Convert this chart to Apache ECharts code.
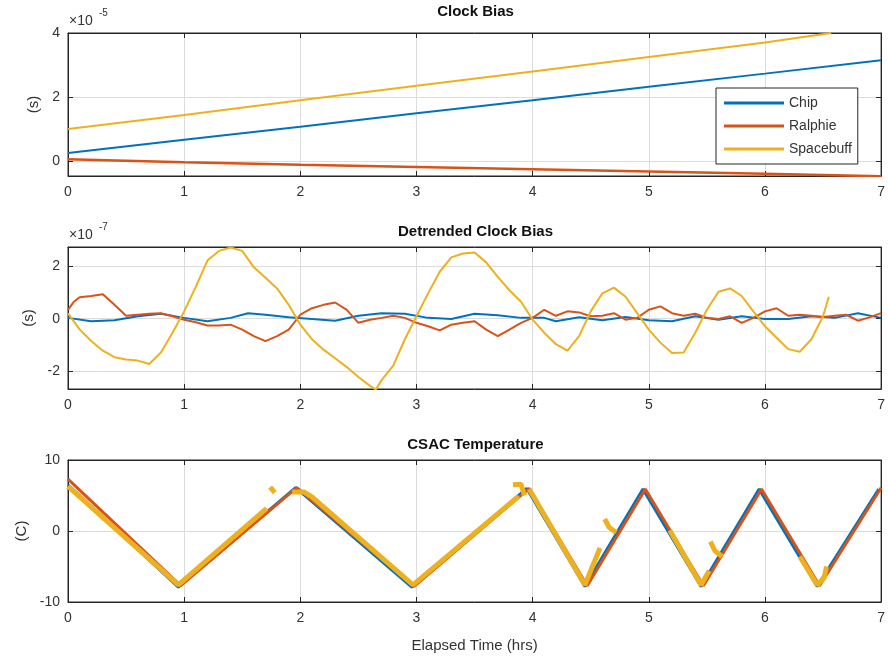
<!DOCTYPE html>
<html>
<head>
<meta charset="utf-8">
<script src="https://cdn.jsdelivr.net/npm/echarts@6/dist/echarts.min.js"></script>
<style>
html,body{margin:0;padding:0;background:#fff;}
#chart{width:888px;height:658px;}
</style>
</head>
<body>
<div id="chart"></div>
<script>
// ---------- DATA ----------
const seriesNames = ['Chip', 'Ralphie', 'Spacebuff'];
const xTicks = [0, 1, 2, 3, 4, 5, 6, 7];

// Panel 1: Clock Bias (units of 1e-5 s)
const biasChipT = [0, 1, 2, 3, 4, 5, 6, 7];
const biasChipV = [0.25, 0.66, 1.07, 1.49, 1.90, 2.32, 2.73, 3.15];
const biasRalphieT = [0, 1, 2, 3, 4, 5, 6, 7];
const biasRalphieV = [0.05, -0.04, -0.12, -0.19, -0.26, -0.33, -0.40, -0.48];
const biasSpacebuffT = [0, 1, 2, 3, 4, 5, 6, 6.57];
const biasSpacebuffV = [1.0, 1.44, 1.90, 2.35, 2.80, 3.25, 3.70, 4.0];

// Panel 2: Detrended Clock Bias (units of 1e-7 s)
const detChipT = [0,0.2,0.4,0.6,0.8,1.0,1.2,1.4,1.55,1.7,1.9,2.1,2.3,2.5,2.7,2.9,3.1,3.3,3.5,3.7,3.9,4.1,4.2,4.4,4.6,4.8,5.0,5.2,5.4,5.6,5.8,6.0,6.2,6.4,6.6,6.8,7.0];
const detChipV = [0.03,-0.10,-0.06,0.09,0.19,0.03,-0.10,0.03,0.21,0.15,0.05,-0.01,-0.08,0.11,0.21,0.19,0.03,-0.01,0.19,0.13,0.03,0.03,-0.10,0.05,-0.06,0.06,-0.06,-0.10,0.09,-0.04,0.09,-0.01,-0.01,0.09,0.03,0.21,0.03];
const detRalphieT = [0,0.05,0.1,0.2,0.3,0.4,0.5,0.6,0.7,0.8,0.9,1.0,1.1,1.2,1.3,1.4,1.5,1.6,1.7,1.8,1.9,2.0,2.1,2.2,2.3,2.4,2.5,2.6,2.7,2.8,2.9,3.0,3.1,3.2,3.3,3.4,3.5,3.6,3.7,3.8,3.9,4.0,4.1,4.2,4.3,4.4,4.5,4.6,4.7,4.8,4.9,5.0,5.1,5.2,5.3,5.4,5.5,5.6,5.7,5.8,5.9,6.0,6.1,6.2,6.3,6.4,6.5,6.6,6.7,6.8,6.9,7.0];
const detRalphieV = [0.34,0.65,0.82,0.87,0.94,0.53,0.11,0.15,0.19,0.21,0.09,-0.04,-0.14,-0.26,-0.26,-0.23,-0.42,-0.67,-0.86,-0.67,-0.42,0.15,0.40,0.53,0.62,0.34,-0.16,-0.04,0.03,0.11,0.03,-0.16,-0.29,-0.45,-0.23,-0.16,-0.10,-0.42,-0.67,-0.42,-0.16,0.03,0.34,0.11,0.28,0.24,0.09,0.11,0.21,-0.04,0.03,0.34,0.47,0.21,0.11,0.19,0.03,-0.01,0.09,-0.16,0.03,0.28,0.40,0.11,0.15,0.11,0.06,0.11,0.15,-0.08,0.05,0.21];
const detSpacebuffT = [0,0.1,0.2,0.3,0.4,0.5,0.6,0.7,0.8,0.9,1.0,1.1,1.2,1.3,1.4,1.5,1.6,1.7,1.8,1.9,2.0,2.1,2.2,2.3,2.4,2.5,2.6,2.65,2.7,2.8,2.9,3.0,3.1,3.2,3.3,3.4,3.5,3.6,3.7,3.8,3.9,4.0,4.1,4.2,4.3,4.4,4.5,4.6,4.7,4.8,4.9,5.0,5.1,5.2,5.3,5.4,5.5,5.6,5.7,5.8,5.9,6.0,6.1,6.2,6.3,6.4,6.5,6.55];
const detSpacebuffV = [0.2,-0.41,-0.86,-1.23,-1.48,-1.57,-1.61,-1.74,-1.30,-0.54,0.28,1.22,2.23,2.60,2.73,2.60,1.97,1.57,1.16,0.53,-0.23,-0.79,-1.19,-1.52,-1.86,-2.24,-2.58,-2.72,-2.36,-1.80,-0.79,0.09,0.97,1.80,2.35,2.50,2.54,2.16,1.60,1.09,0.65,-0.04,-0.54,-0.98,-1.23,-0.67,0.28,0.97,1.19,0.84,0.21,-0.42,-0.92,-1.32,-1.30,-0.54,0.34,1.03,1.16,0.87,0.28,-0.29,-0.73,-1.17,-1.27,-0.79,0.09,0.84];

// Panel 3: CSAC Temperature (C)
const tempChipT = [0, 0.95, 1.96, 2.96, 3.95, 4.45, 4.95, 5.45, 5.95, 6.45, 6.98];
const tempChipV = [6.5, -7.9, 6.1, -7.9, 6.0, -7.8, 5.9, -7.8, 5.9, -7.8, 5.9];
const tempRalphieT = [0, 0.97, 1.97, 2.98, 3.97, 4.47, 4.97, 5.47, 5.97, 6.47, 7.0];
const tempRalphieV = [7.3, -7.7, 6.1, -7.8, 6.0, -7.7, 5.9, -7.7, 5.9, -7.7, 6.1];
const tempSpacebuffT = [0,0.95,1.71,null,1.74,1.78,null,1.93,2.03,2.1,2.97,3.88,null,3.83,3.9,3.93,null,3.97,4.45,4.58,null,4.62,4.66,4.72,null,5.18,5.45,5.52,null,5.53,5.57,5.63,null,6.3,6.45,6.51,6.53];
const tempSpacebuffV = [6.3,-7.6,3.2,null,6.2,5.4,null,5.5,5.5,4.8,-7.6,4.9,null,6.5,6.6,5.0,null,5.9,-7.6,-2.4,null,1.7,0.5,-0.2,null,0.1,-7.6,-5.6,null,-1.5,-2.8,-3.6,null,-3.6,-7.6,-6.6,-5.0];

// ---------- STYLE ----------
const colors = ['#0072BD', '#D95319', '#EDB120'];
const FONT = '"Liberation Sans", Arial, Helvetica, sans-serif';
const TXT = '#333333';
const grids = [
  {left: 68, right: 5, top: 33, height: 143},
  {left: 68, right: 5, top: 247, height: 142},
  {left: 68, right: 5, top: 460, height: 142}
];
const yRanges = [
  {min: -0.47, max: 4, splitNumber: 2, name: '(s)', gap: 27},
  {min: -2.7, max: 2.75, splitNumber: 3, name: '(s)', gap: 27},
  {min: -10, max: 10, interval: 10, name: '(C)', gap: 36}
];

function pairs(t, v) { return t.map((x, i) => (x === null ? [null, null] : [x, v[i]])); }

const xAxes = [], yAxes = [];
grids.forEach((g, i) => {
  xAxes.push({
    type: 'value', gridIndex: i, min: 0, max: 7, interval: 1, position: 'bottom',
    axisLine: {show: true, onZero: false, lineStyle: {color: '#262626', width: 1}},
    axisTick: {show: true, inside: true, length: 5, lineStyle: {color: '#262626'}},
    axisLabel: {color: TXT, fontSize: 14, fontFamily: FONT, margin: 9},
    splitLine: {show: true, lineStyle: {color: '#dcdcdc', width: 1}},
    name: i === 2 ? 'Elapsed Time (hrs)' : '',
    nameLocation: 'middle', nameGap: 36,
    nameTextStyle: {color: TXT, fontSize: 15, fontFamily: FONT}
  });
  xAxes.push({
    type: 'value', gridIndex: i, min: 0, max: 7, interval: 1, position: 'top',
    axisLine: {show: true, onZero: false, lineStyle: {color: '#262626'}},
    axisTick: {show: true, inside: true, length: 5, lineStyle: {color: '#262626'}},
    axisLabel: {show: false}, splitLine: {show: false}
  });
  const r = yRanges[i];
  const yBase = {
    type: 'value', gridIndex: i, min: r.min, max: r.max
  };
  if (r.interval) yBase.interval = r.interval; else yBase.splitNumber = r.splitNumber;
  yAxes.push(Object.assign({}, yBase, {
    position: 'left',
    axisLine: {show: true, onZero: false, lineStyle: {color: '#262626', width: 1}},
    axisTick: {show: true, inside: true, length: 5, lineStyle: {color: '#262626'}},
    axisLabel: {color: TXT, fontSize: 14, fontFamily: FONT, margin: 8,
      showMinLabel: i === 2, showMaxLabel: i !== 1},
    splitLine: {show: true, lineStyle: {color: '#dcdcdc', width: 1}},
    name: r.name, nameLocation: 'middle', nameGap: r.gap, nameRotate: 90,
    nameTextStyle: {color: TXT, fontSize: 15, fontFamily: FONT}
  }));
  yAxes.push(Object.assign({}, yBase, {
    position: 'right',
    axisLine: {show: true, onZero: false, lineStyle: {color: '#262626'}},
    axisTick: {show: true, inside: true, length: 5, lineStyle: {color: '#262626'}},
    axisLabel: {show: false}, splitLine: {show: false}
  }));
});

function line(name, gi, data, width, color) {
  return {
    type: 'line', name: name, xAxisIndex: gi * 2, yAxisIndex: gi * 2,
    data: data, showSymbol: false, symbol: 'none', connectNulls: false,
    lineStyle: {width: width, color: color}, itemStyle: {color: color},
    animation: false, silent: true
  };
}

const series = [
  line('Chip', 0, pairs(biasChipT, biasChipV), 2, colors[0]),
  line('Ralphie', 0, pairs(biasRalphieT, biasRalphieV), 2.5, colors[1]),
  line('Spacebuff', 0, pairs(biasSpacebuffT, biasSpacebuffV), 2, colors[2]),
  line('Chip', 1, pairs(detChipT, detChipV), 2, colors[0]),
  line('Ralphie', 1, pairs(detRalphieT, detRalphieV), 2, colors[1]),
  line('Spacebuff', 1, pairs(detSpacebuffT, detSpacebuffV), 2, colors[2]),
  line('Chip', 2, pairs(tempChipT, tempChipV), 3, colors[0]),
  line('Ralphie', 2, pairs(tempRalphieT, tempRalphieV), 3, colors[1]),
  line('Spacebuff', 2, pairs(tempSpacebuffT, tempSpacebuffV), 5, colors[2])
];

const titleStyle = {color: '#111', fontSize: 15, fontWeight: 'bold', fontFamily: FONT};
const option = {
  backgroundColor: '#ffffff',
  animation: false,
  title: [
    {text: 'Clock Bias', left: 475.5, top: 4, textAlign: 'center', textStyle: titleStyle, padding: 0},
    {text: 'Detrended Clock Bias', left: 475.5, top: 224, textAlign: 'center', textStyle: titleStyle, padding: 0},
    {text: 'CSAC Temperature', left: 475.5, top: 437, textAlign: 'center', textStyle: titleStyle, padding: 0}
  ],
  legend: {
    data: seriesNames, orient: 'vertical', left: 716, top: 88,
    icon: 'rect', itemWidth: 60, itemHeight: 3, itemGap: 9,
    padding: [8, 6, 8, 8],
    backgroundColor: '#ffffff', borderColor: '#262626', borderWidth: 1,
    textStyle: {color: TXT, fontSize: 14, fontFamily: FONT},
    selectedMode: false
  },
  grid: grids.map(g => Object.assign({show: true, borderColor: '#262626', borderWidth: 1, backgroundColor: '#fff'}, g)),
  xAxis: xAxes,
  yAxis: yAxes,
  series: series,
  graphic: [
    {type: 'text', left: 69, top: 14, style: {text: '×10', fill: TXT, fontSize: 14, fontFamily: FONT}},
    {type: 'text', left: 99, top: 8, style: {text: '-5', fill: TXT, fontSize: 10, fontFamily: FONT}},
    {type: 'text', left: 69, top: 228, style: {text: '×10', fill: TXT, fontSize: 14, fontFamily: FONT}},
    {type: 'text', left: 99, top: 222, style: {text: '-7', fill: TXT, fontSize: 10, fontFamily: FONT}}
  ]
};

const chart = echarts.init(document.getElementById('chart'), null, {renderer: 'canvas'});
chart.setOption(option);
</script>
</body>
</html>
